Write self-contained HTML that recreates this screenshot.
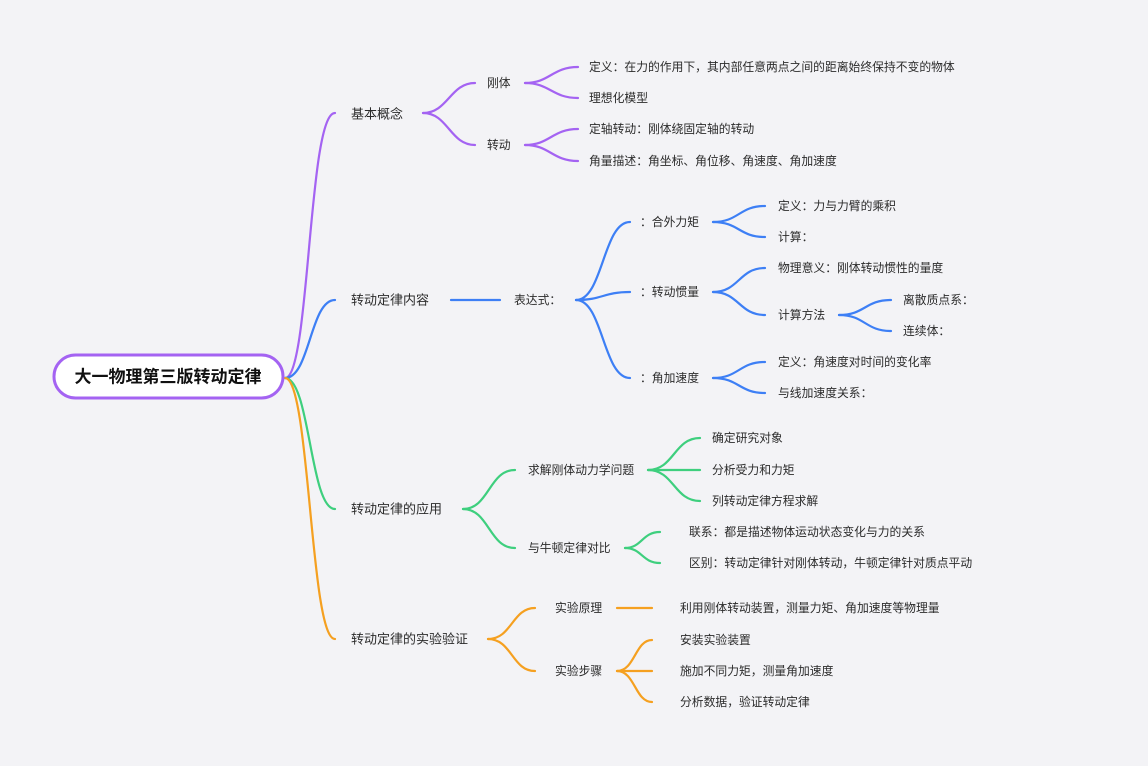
<!DOCTYPE html>
<html><head><meta charset="utf-8"><style>
html,body{margin:0;padding:0;background:#f3f3f6;}
svg{display:block}
text{font-family:"Liberation Sans","Noto Sans CJK SC",sans-serif;fill:#2b2b2b;font-size:11.8px;dominant-baseline:central}
.l1{font-size:13px}
path{fill:none;stroke-width:2.2;stroke-linecap:round}
.p{stroke:#a463f2}.b{stroke:#3d7ff5}.g{stroke:#3ecf7e}.o{stroke:#f5a020}
</style></head><body>
<svg width="1148" height="766" viewBox="0 0 1148 766" xmlns="http://www.w3.org/2000/svg">
<path class="p" d="M285 378 C310 378 308 113 335 113"/>
<path class="b" d="M285 378 C310 378 310 300 335 300"/>
<path class="g" d="M285 378 C310 378 310 509 335 509"/>
<path class="o" d="M285 378 C310 378 310 639 335 639"/>
<rect x="54" y="355" width="229" height="43" rx="21.5" fill="#fff" stroke="#a463f2" stroke-width="3"/>
<text x="168" y="377" text-anchor="middle" style="font-size:17px;font-weight:bold;fill:#111">大一物理第三版转动定律</text>

<text class="l1" x="351" y="114">基本概念</text>
<path class="p" d="M423 113 C448 113 450 83 475 83"/>
<path class="p" d="M423 113 C448 113 450 145 475 145"/>
<text x="487" y="83">刚体</text>
<text x="487" y="145">转动</text>
<path class="p" d="M525 83 C550 83 552 67 578 67"/>
<path class="p" d="M525 83 C550 83 552 98 578 98"/>
<path class="p" d="M525 145 C550 145 552 129 578 129"/>
<path class="p" d="M525 145 C550 145 552 161 578 161"/>
<text x="589" y="67">定义：在力的作用下，其内部任意两点之间的距离始终保持不变的物体</text>
<text x="589" y="98">理想化模型</text>
<text x="589" y="129">定轴转动：刚体绕固定轴的转动</text>
<text x="589" y="161">角量描述：角坐标、角位移、角速度、角加速度</text>

<text class="l1" x="351" y="300">转动定律内容</text>
<path class="b" d="M451 300 L500 300"/>
<text x="514" y="300">表达式：</text>
<path class="b" d="M576 300 C603 300 603 222 630 222"/>
<path class="b" d="M576 300 C603 300 603 292 630 292"/>
<path class="b" d="M576 300 C603 300 603 378 630 378"/>
<text x="640" y="222">：合外力矩</text>
<text x="640" y="292">：转动惯量</text>
<text x="640" y="378">：角加速度</text>
<path class="b" d="M713 222 C739 222 739 206 765 206"/>
<path class="b" d="M713 222 C739 222 739 237 765 237"/>
<path class="b" d="M713 292 C739 292 739 268 765 268"/>
<path class="b" d="M713 292 C739 292 739 315 765 315"/>
<path class="b" d="M713 378 C739 378 739 362 765 362"/>
<path class="b" d="M713 378 C739 378 739 393 765 393"/>
<text x="778" y="206">定义：力与力臂的乘积</text>
<text x="778" y="237">计算：</text>
<text x="778" y="268">物理意义：刚体转动惯性的量度</text>
<text x="778" y="315">计算方法</text>
<text x="778" y="362">定义：角速度对时间的变化率</text>
<text x="778" y="393">与线加速度关系：</text>
<path class="b" d="M839 315 C865 315 865 300 891 300"/>
<path class="b" d="M839 315 C865 315 865 331 891 331"/>
<text x="903" y="300">离散质点系：</text>
<text x="903" y="331">连续体：</text>

<text class="l1" x="351" y="509">转动定律的应用</text>
<path class="g" d="M463 509 C489 509 489 470 515 470"/>
<path class="g" d="M463 509 C489 509 489 548 515 548"/>
<text x="528" y="470">求解刚体动力学问题</text>
<text x="528" y="548">与牛顿定律对比</text>
<path class="g" d="M648 470 C674 470 674 438 700 438"/>
<path class="g" d="M648 470 L700 470"/>
<path class="g" d="M648 470 C674 470 674 501 700 501"/>
<text x="712" y="438">确定研究对象</text>
<text x="712" y="470">分析受力和力矩</text>
<text x="712" y="501">列转动定律方程求解</text>
<path class="g" d="M625 548 C642 548 642 532 660 532"/>
<path class="g" d="M625 548 C642 548 642 563 660 563"/>
<text x="689" y="532">联系：都是描述物体运动状态变化与力的关系</text>
<text x="689" y="563">区别：转动定律针对刚体转动，牛顿定律针对质点平动</text>

<text class="l1" x="351" y="639">转动定律的实验验证</text>
<path class="o" d="M488 639 C512 639 512 608 535 608"/>
<path class="o" d="M488 639 C512 639 512 671 535 671"/>
<text x="555" y="608">实验原理</text>
<text x="555" y="671">实验步骤</text>
<path class="o" d="M617 608 L652 608"/>
<text x="680" y="608">利用刚体转动装置，测量力矩、角加速度等物理量</text>
<path class="o" d="M617 671 C635 671 635 640 652 640"/>
<path class="o" d="M617 671 L652 671"/>
<path class="o" d="M617 671 C635 671 635 702 652 702"/>
<text x="680" y="640">安装实验装置</text>
<text x="680" y="671">施加不同力矩，测量角加速度</text>
<text x="680" y="702">分析数据，验证转动定律</text>
</svg>
</body></html>
